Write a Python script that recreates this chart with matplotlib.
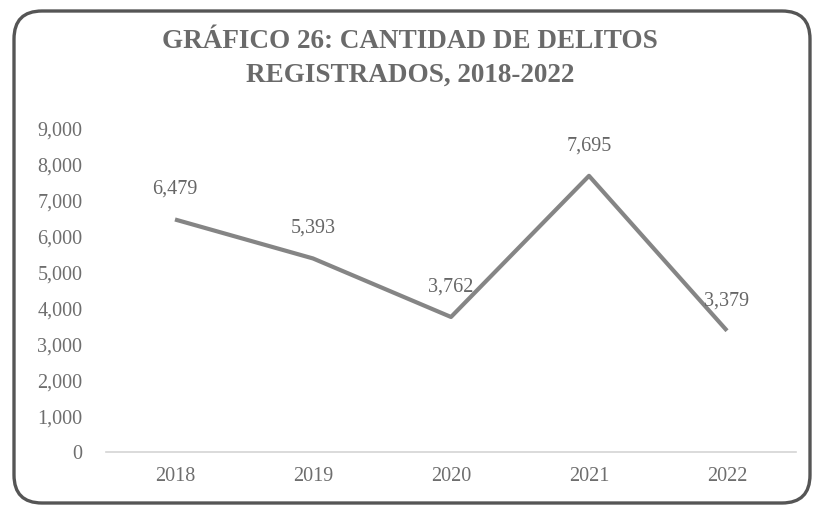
import matplotlib
matplotlib.use("Agg")
import matplotlib.pyplot as plt
from matplotlib.patches import FancyBboxPatch

plt.rcParams['font.family'] = ['Liberation Serif', 'DejaVu Serif']

# Data
years = ['2018', '2019', '2020', '2021', '2022']
delitos = [6479, 5393, 3762, 7695, 3379]
yticks = [0, 1000, 2000, 3000, 4000, 5000, 6000, 7000, 8000, 9000]
title = 'GRÁFICO 26: CANTIDAD DE DELITOS\nREGISTRADOS, 2018-2022'

W, H = 816, 509
fig = plt.figure(figsize=(W / 100, H / 100), dpi=100)

# rounded frame, drawn in pixel units
bg = fig.add_axes([0, 0, 1, 1])
bg.set_xlim(0, W)
bg.set_ylim(H, 0)
bg.axis('off')
frame = FancyBboxPatch((14, 11), 796, 492, boxstyle='round,pad=0,rounding_size=28',
                       fill=False, edgecolor='#555555', linewidth=2.4)
bg.add_patch(frame)

# plot area
left, right = 106 / W, 796 / W
bottom, top = (H - 452) / H, (H - 129) / H
ax = fig.add_axes([left, bottom, right - left, top - bottom])
x = list(range(len(years)))
ax.plot(x, delitos, color='#858585', linewidth=3.0, solid_capstyle='butt')

for xi, v in zip(x, delitos):
    ax.annotate(f'{v:,}', (xi, v), xytext=(0, 30), textcoords='offset pixels',
                ha='center', va='center', fontsize=14.5, color='#666666')

ax.set_xlim(-0.5, len(years) - 0.5)
ax.set_ylim(0, 9000)
ax.set_xticks(x)
ax.set_xticklabels(years)
ax.set_yticks(yticks)
ax.set_yticklabels([f'{t:,}' for t in yticks])
ax.tick_params(axis='y', length=0, pad=17, labelsize=14.5, labelcolor='#6e6e6e')
ax.tick_params(axis='x', length=0, pad=11, labelsize=14.5, labelcolor='#6e6e6e')
for s in ['top', 'right', 'left']:
    ax.spines[s].set_visible(False)
ax.spines['bottom'].set_color('#d4d4d4')
ax.spines['bottom'].set_linewidth(1.2)
ax.set_facecolor('none')

fig.text(410 / W, 1 - 58 / H, title, ha='center', va='center', fontsize=19.5,
         fontweight='bold', color='#6a6a6a', linespacing=1.45)

fig.savefig('out.png', dpi=100, facecolor='white')
